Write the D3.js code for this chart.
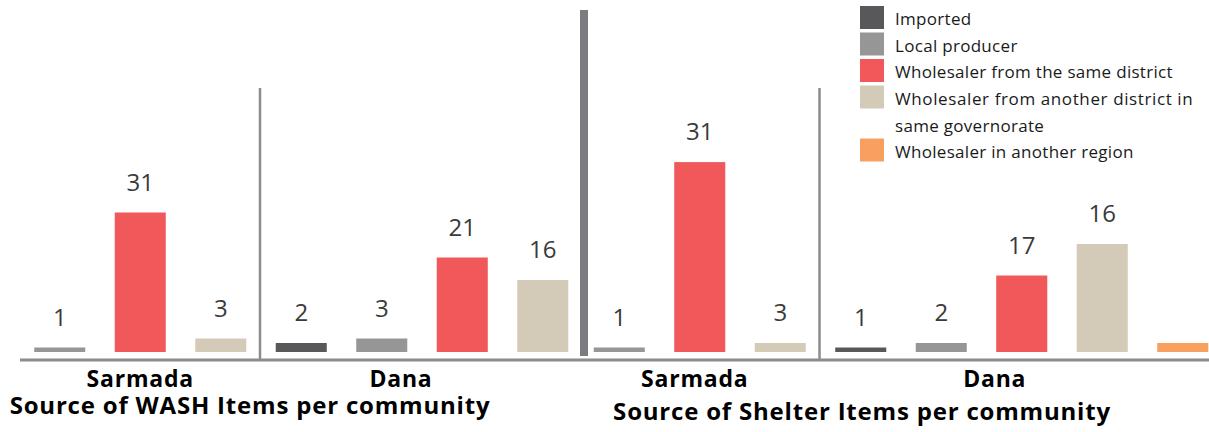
<!DOCTYPE html>
<html>
<head>
<meta charset="utf-8">
<script src="https://cdn.jsdelivr.net/npm/d3@7"></script>
<style>
  body { margin: 0; background: #fff; }
  svg { display: block; font-family: "Open Sans", "Noto Sans", sans-serif; }
</style>
</head>
<body>
<div id="chart"></div>
<script>
// sources (legend order) and their colours
var sources = ["Imported", "Local producer", "Wholesaler from the same district",
               "Wholesaler from another district in same governorate", "Wholesaler in another region"];
var sourceColors = ["#58585a", "#969696", "#f0585a", "#d3cbb8", "#f7a05f"];

// bar values as drawn, and the number printed above each bar
var washSarmada = [
    { source: "Local producer", value: 1, label: "1" },
    { source: "Wholesaler from the same district", value: 31, label: "31" },
    { source: "Wholesaler from another district in same governorate", value: 3, label: "3" }
];
var washDana = [
    { source: "Imported", value: 2, label: "2" },
    { source: "Local producer", value: 3, label: "3" },
    { source: "Wholesaler from the same district", value: 21, label: "21" },
    { source: "Wholesaler from another district in same governorate", value: 16, label: "16" }
];
var shelterSarmada = [
    { source: "Local producer", value: 1, label: "1" },
    { source: "Wholesaler from the same district", value: 42.2, label: "31" },
    { source: "Wholesaler from another district in same governorate", value: 2, label: "3" }
];
var shelterDana = [
    { source: "Imported", value: 1, label: "1" },
    { source: "Local producer", value: 2, label: "2" },
    { source: "Wholesaler from the same district", value: 17, label: "17" },
    { source: "Wholesaler from another district in same governorate", value: 24, label: "16" },
    { source: "Wholesaler in another region", value: 2, label: null }
];

var panels = [
    { title: "Source of WASH Items per community", groups: [["Sarmada", washSarmada], ["Dana", washDana]],
      range: [19.5, 583], titleX: 250, titleY: 414, labelShift: [0, -21] },
    { title: "Source of Shelter Items per community", groups: [["Sarmada", shelterSarmada], ["Dana", shelterDana]],
      range: [579, 1223], titleX: 862, titleY: 420, labelShift: [-5, -27] }
];

var width = 1209,
    height = 432;

var color = d3.scaleOrdinal().domain(sources).range(sourceColors);
var y = d3.scaleLinear().domain([0, 40]).range([352, 172]);

var svg = d3.select('#chart').append('svg')
    .attr('width', width)
    .attr('height', height);

// base line
svg.append('line')
    .attr('x1', 20).attr('x2', width)
    .attr('y1', 360).attr('y2', 360)
    .attr('stroke', '#8c8c8c')
    .attr('stroke-width', 3);

// thick divider between the two charts
svg.append('rect')
    .attr('x', 580).attr('y', 10)
    .attr('width', 8).attr('height', 346)
    .attr('fill', '#7c7c80');

panels.forEach(function(p) {
    var slots = [];
    p.groups.forEach(function(g) {
        g[1].forEach(function(d, i) { slots.push({ group: g[0], d: d, key: g[0] + i }); });
    });

    var x = d3.scaleBand()
        .domain(slots.map(function(s) { return s.key; }))
        .range(p.range)
        .paddingInner(0.366)
        .paddingOuter(0.183);
    var step = x.step();

    var g = svg.append('g');

    g.selectAll('rect.bar')
        .data(slots)
        .enter().append('rect')
        .attr('class', 'bar')
        .attr('x', function(s) { return x(s.key); })
        .attr('width', x.bandwidth())
        .attr('y', function(s) { return y(s.d.value); })
        .attr('height', function(s) { return y(0) - y(s.d.value); })
        .attr('fill', function(s) { return color(s.d.source); });

    g.selectAll('text.val')
        .data(slots.filter(function(s) { return s.d.label !== null; }))
        .enter().append('text')
        .attr('class', 'val')
        .attr('x', function(s) { return x(s.key) + x.bandwidth() / 2; })
        .attr('y', function(s) { return y(s.d.value) - 22; })
        .attr('text-anchor', 'middle')
        .attr('font-size', 24)
        .attr('fill', '#3a3a3a')
        .text(function(s) { return s.d.label; });

    // thin divider + group names
    var start = p.range[0];
    p.groups.forEach(function(gr, gi) {
        var n = gr[1].length;
        var cx = start + n * step / 2 + p.labelShift[gi];
        g.append('text')
            .attr('x', cx).attr('y', 387)
            .attr('text-anchor', 'middle')
            .attr('font-size', 23)
            .attr('font-weight', 'bold')
            .attr('letter-spacing', 0.8)
            .attr('fill', '#000')
            .text(gr[0]);
        start += n * step;
        if (gi === 0) {
            g.append('line')
                .attr('x1', start - 1).attr('x2', start - 1)
                .attr('y1', 88).attr('y2', 359)
                .attr('stroke', '#8c8c8c')
                .attr('stroke-width', 2.5);
        }
    });

    g.append('text')
        .attr('x', p.titleX).attr('y', p.titleY)
        .attr('text-anchor', 'middle')
        .attr('font-size', 24)
        .attr('font-weight', 'bold')
        .attr('letter-spacing', 0.8)
        .attr('fill', '#000')
        .text(p.title);
});

// legend
var legendLines = [["Imported"], ["Local producer"], ["Wholesaler from the same district"],
                   ["Wholesaler from another district in", "same governorate"], ["Wholesaler in another region"]];
var lineH = 26.5;
var legend = svg.append('g').attr('class', 'legend');
var row = 0;
sources.forEach(function(s, i) {
    var top = 6 + row * lineH;
    legend.append('rect')
        .attr('x', 860).attr('y', top)
        .attr('width', 24).attr('height', 23)
        .attr('fill', color(s));
    legendLines[i].forEach(function(t, j) {
        var txt = legend.append('text')
            .attr('x', 895).attr('y', top + 19 + j * 27.5)
            .attr('font-size', 17)
            .attr('letter-spacing', 0.3)
            .attr('fill', '#1a1a1a')
            .text(t);
        if (legendLines[i].length > 1 && j === 0) {
            txt.attr('textLength', 298).attr('lengthAdjust', 'spacing');
        }
    });
    row += legendLines[i].length;
});
</script>
</body>
</html>
